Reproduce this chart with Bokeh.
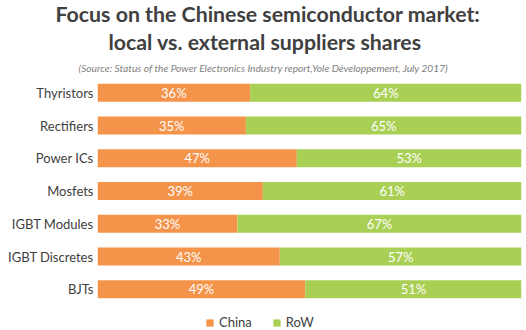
from bokeh.plotting import figure
from bokeh.models import Range1d, FixedTicker, Title, Legend, LegendItem, ColumnDataSource
from bokeh.core.properties import value
from bokeh.embed import file_html
from bokeh.resources import INLINE

categories = ["Thyristors", "Rectifiers", "Power ICs", "Mosfets", "IGBT Modules", "IGBT Discretes", "BJTs"]
china = [36, 35, 47, 39, 33, 43, 49]
row = [64, 65, 53, 61, 67, 57, 51]
series_names = ["China", "RoW"]
title_lines = ["Focus on the Chinese semiconductor market:", "local vs. external suppliers shares"]
subtitle = "(Source: Status of the Power Electronics Industry report,Yole Développement, July 2017)"

ORANGE = "#F4934A"
GREEN = "#AACF55"
DARK = "#404040"
FONT = "Lato"

W = 526
HGT = 330
LEFT = 97
RIGHT = 5

n = len(categories)
ypos = [n - 1 - i for i in range(n)]
src = ColumnDataSource(dict(
    y=ypos, china=china, row=row,
    china_mid=[c / 2 for c in china],
    row_mid=[c + r / 2 for c, r in zip(china, row)],
    china_lbl=[f"{c}%" for c in china],
    row_lbl=[f"{r}%" for r in row],
))

unit = 230 / n  # px per row
bottom_extra = 25 / unit

p = figure(width=W, height=HGT, output_backend="svg", toolbar_location=None,
           x_range=Range1d(0, 100), y_range=Range1d(-0.5 - bottom_extra, n - 0.5),
           min_border_left=LEFT, min_border_right=RIGHT, min_border_top=0, min_border_bottom=0)
p.title = None
p.outline_line_color = None
p.grid.visible = False
p.xaxis.visible = False
p.background_fill_color = "white"
p.border_fill_color = "white"

# titles: left-aligned with offsets relative to frame left so they are centred on the canvas
p.add_layout(Title(text=subtitle, align="left", offset=78 - LEFT, standoff=6,
                   text_font=FONT, text_font_style="italic", text_font_size="10.2px",
                   text_line_height=1.0, text_color="#808080"), "above")
p.add_layout(Title(text=title_lines[1], align="left", offset=108 - LEFT, standoff=0,
                   vertical_align="top",
                   text_font=FONT, text_font_style="bold", text_font_size="21.3px",
                   text_line_height=1.0, text_color=DARK), "above")
p.add_layout(Title(text=title_lines[0], align="left", offset=55 - LEFT, standoff=0,
                   vertical_align="top",
                   text_font=FONT, text_font_style="bold", text_font_size="21.3px",
                   text_line_height=1.0, text_color=DARK), "above")

r1 = p.hbar(y="y", left=0, right="china", height=0.55, color=ORANGE, line_color=None, source=src)
r2 = p.hbar(y="y", left="china", right=100, height=0.55, color=GREEN, line_color=None, source=src)

p.text(x="china_mid", y="y", text="china_lbl", source=src, text_color="white",
       text_font=value(FONT), text_font_size="13px", text_align="center", text_baseline="middle")
p.text(x="row_mid", y="y", text="row_lbl", source=src, text_color="white",
       text_font=value(FONT), text_font_size="13px", text_align="center", text_baseline="middle")

ya = p.yaxis[0]
ya.ticker = FixedTicker(ticks=ypos)
ya.major_label_overrides = {y: c for y, c in zip(ypos, categories)}
ya.axis_line_color = None
ya.major_tick_line_color = None
ya.minor_tick_line_color = None
ya.major_tick_out = 0
ya.major_label_standoff = 4
ya.major_label_text_font = FONT
ya.major_label_text_font_size = "13px"
ya.major_label_text_color = DARK

legend = Legend(items=[LegendItem(label=series_names[0], renderers=[r1]),
                       LegendItem(label=series_names[1], renderers=[r2])],
                orientation="horizontal", location=(108, 0),
                label_text_font=FONT, label_text_font_size="13px", label_text_color=DARK,
                glyph_width=9, glyph_height=9, spacing=20, label_standoff=5,
                border_line_color=None, background_fill_alpha=0, padding=2, margin=0)
p.add_layout(legend)

open("out.html", "w").write(file_html(p, INLINE))
